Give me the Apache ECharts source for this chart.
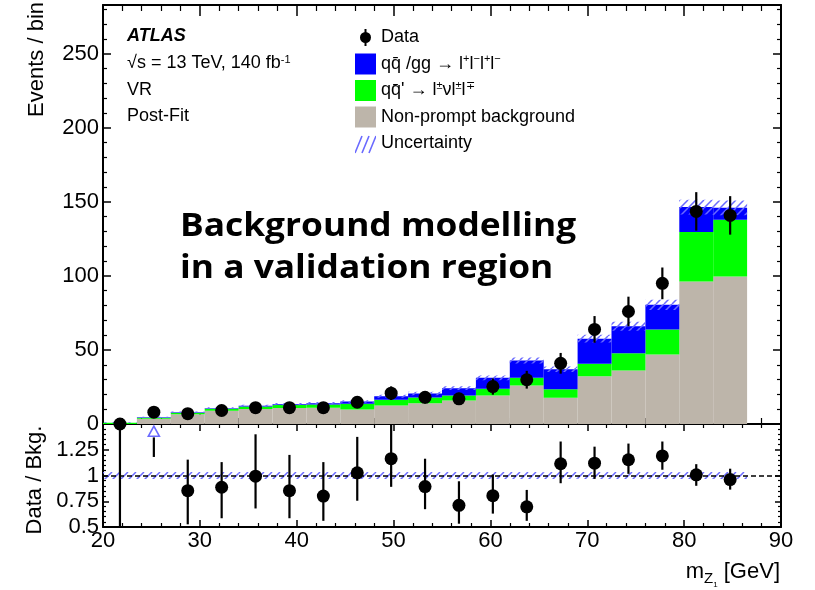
<!DOCTYPE html>
<html>
<head>
<meta charset="utf-8">
<script src="https://cdn.jsdelivr.net/npm/echarts@6/dist/echarts.min.js"></script>
<style>
html, body { margin: 0; padding: 0; background: #fff; }
#chart { width: 815px; height: 590px; }
</style>
</head>
<body>
<div id="chart"></div>
<script>
// bin edges in m_Z1 [GeV]
const binEdges = [20, 23.5, 27, 30.5, 34, 37.5, 41, 44.5, 48, 51.5, 55, 58.5, 62, 65.5, 69, 72.5, 76, 79.5, 83, 86.5];
const binCenters = [21.75, 25.25, 28.75, 32.25, 35.75, 39.25, 42.75, 46.25, 49.75, 53.25, 56.75, 60.25, 63.75, 67.25, 70.75, 74.25, 77.75, 81.25, 84.75];

// stacked backgrounds, events / bin
const nonPrompt = [0, 3.5, 6.6, 9.0, 10.2, 10.8, 11.0, 9.8, 12.5, 14.0, 15.9, 19.3, 26.0, 17.7, 32.3, 36.1, 47.0, 96.3, 99.7];
const wzBkg = [0.8, 0.8, 1.0, 1.3, 1.6, 2.0, 2.2, 3.8, 3.8, 3.9, 3.4, 4.5, 5.2, 5.8, 8.4, 11.7, 16.9, 33.3, 38.3];
const zzBkg = [0.1, 0.3, 0.4, 0.4, 0.5, 0.6, 0.8, 1.6, 2.5, 2.7, 4.9, 7.4, 11.7, 13.5, 16.9, 18.2, 16.6, 16.9, 8.0];
const stackUnc = [0.2, 0.3, 0.5, 0.6, 0.7, 0.7, 0.8, 0.9, 1.0, 1.1, 1.3, 1.6, 2.0, 1.9, 2.6, 3.0, 3.5, 5.0, 5.0];

// data
const dataEvents = [0, 8, 7, 9.1, 11, 11, 11, 14.7, 20.8, 18, 17, 25.3, 29.9, 41, 63.9, 76, 95, 143.6, 140.9];
const dataErr = [0, 2.8, 2.6, 3.0, 3.3, 3.3, 3.3, 3.9, 4.6, 4.2, 4.1, 5.5, 6.0, 7.0, 9.0, 10.0, 10.7, 13.0, 13.0];

// ratio panel
const ratioVals = [null, null, 0.853, 0.886, 0.993, 0.853, 0.80, 1.026, 1.163, 0.892, 0.71, 0.804, 0.696, 1.114, 1.12, 1.153, 1.19, 1.007, 0.96];
const ratioLo = [0.5, 1.18, 0.526, 0.585, 0.68, 0.585, 0.56, 0.755, 0.89, 0.673, 0.532, 0.63, 0.56, 0.925, 0.967, 1.016, 1.056, 0.90, 0.863];
const ratioHi = [1.5, 1.37, 1.154, 1.13, 1.40, 1.20, 1.13, 1.375, 1.5, 1.163, 0.944, 1.01, 0.86, 1.33, 1.28, 1.31, 1.33, 1.11, 1.066];
const ratioUnc = [0.035, 0.035, 0.035, 0.035, 0.035, 0.035, 0.035, 0.035, 0.035, 0.035, 0.035, 0.035, 0.035, 0.035, 0.035, 0.035, 0.035, 0.035, 0.035];
const offScale = [[25.25, 1.43]];

const FONT = '"Liberation Sans", Arial, sans-serif';
const C_ZZ = '#0000ff', C_WZ = '#00ff00', C_NP = '#bdb5aa', C_UNC = '#6a6aff';

function hatchCanvas(size, step) {
    var c = document.createElement('canvas');
    c.width = size; c.height = size;
    var g = c.getContext('2d');
    g.strokeStyle = C_UNC;
    g.lineWidth = 1.5;
    g.beginPath();
    for (var k = -size; k <= size * 2; k += step) {
        g.moveTo(k, size);
        g.lineTo(k + size, 0);
    }
    g.stroke();
    return c;
}

function dataIcon() {
    var c = document.createElement('canvas');
    c.width = 21; c.height = 21;
    var g = c.getContext('2d');
    g.strokeStyle = '#000';
    g.lineWidth = 2;
    g.beginPath(); g.moveTo(10.5, 2); g.lineTo(10.5, 19); g.stroke();
    g.fillStyle = '#000';
    g.beginPath(); g.arc(10.5, 10.5, 5.5, 0, Math.PI * 2); g.fill();
    return c.toDataURL();
}

function uncIcon() {
    var c = document.createElement('canvas');
    c.width = 21; c.height = 21;
    var g = c.getContext('2d');
    g.strokeStyle = C_UNC;
    g.lineWidth = 1.6;
    g.beginPath();
    [0, 7, 14].forEach(function (k) { g.moveTo(k, 20); g.lineTo(k + 7, 3); });
    g.stroke();
    return c.toDataURL();
}

const hatchPattern = { type: 'pattern', image: hatchCanvas(8, 8), repeat: 'repeat' };

// build stacked rect table [lo, hi, bottom, top]
function stackRows(lowers, values) {
    return values.map(function (v, i) {
        var b = 0;
        lowers.forEach(function (arr) { b += arr[i]; });
        return [binEdges[i], binEdges[i + 1], b, b + v];
    });
}

function rectItem(params, api) {
    var p1 = api.coord([api.value(0), api.value(3)]);
    var p2 = api.coord([api.value(1), api.value(2)]);
    return {
        type: 'rect',
        shape: { x: p1[0], y: p1[1], width: p2[0] - p1[0], height: p2[1] - p1[1] },
        style: { fill: api.visual('color') }
    };
}

function hatchItem(params, api) {
    var p1 = api.coord([api.value(0), api.value(3)]);
    var p2 = api.coord([api.value(1), api.value(2)]);
    return {
        type: 'rect',
        shape: { x: p1[0], y: p1[1], width: p2[0] - p1[0], height: p2[1] - p1[1] },
        style: { fill: hatchPattern }
    };
}

function errItem(params, api) {
    var a = api.coord([api.value(0), api.value(1)]);
    var b = api.coord([api.value(0), api.value(2)]);
    return {
        type: 'line',
        shape: { x1: a[0], y1: a[1], x2: b[0], y2: b[1] },
        style: { stroke: '#000', lineWidth: 2.2 }
    };
}

const npRows = stackRows([], nonPrompt);
const wzRows = stackRows([nonPrompt], wzBkg);
const zzRows = stackRows([nonPrompt, wzBkg], zzBkg);
const uncRows = zzRows.map(function (r, i) { return [r[0], r[1], r[3] - stackUnc[i], r[3] + stackUnc[i]]; });
const ratioUncRows = ratioUnc.map(function (u, i) { return [binEdges[i], binEdges[i + 1], 1 - u, 1 + u]; });
const dataPts = binCenters.map(function (x, i) { return [x, dataEvents[i]]; });
const dataErrRows = binCenters.map(function (x, i) { return [x, dataEvents[i] - dataErr[i], dataEvents[i] + dataErr[i]]; })
    .filter(function (r, i) { return dataErr[i] > 0; });
const ratioPts = binCenters.map(function (x, i) { return [x, ratioVals[i]]; })
    .filter(function (r) { return r[1] !== null; });
const ratioErrRows = binCenters.map(function (x, i) { return [x, ratioLo[i], ratioHi[i]]; });

function xAx(grid, pos, labels, tick, minor) {
    return {
        type: 'value', gridIndex: grid, position: pos, min: 20, max: 90, interval: 10,
        axisLine: { show: true, onZero: false, lineStyle: { color: '#000', width: 2 } },
        axisTick: { show: true, inside: true, length: tick, lineStyle: { color: '#000', width: 1.5 } },
        minorTick: { show: true, splitNumber: 5, length: minor, lineStyle: { color: '#000', width: 1.2 } },
        splitLine: { show: false },
        axisLabel: { show: labels, color: '#000', fontSize: 22, fontFamily: FONT, margin: 3, showMinLabel: true, showMaxLabel: true }
    };
}

function yAx(grid, pos, min, max, interval, labels, tick, minor, fmt) {
    return {
        type: 'value', gridIndex: grid, position: pos, min: min, max: max, interval: interval,
        axisLine: { show: true, onZero: false, lineStyle: { color: '#000', width: 2 } },
        axisTick: { show: true, inside: true, length: tick, lineStyle: { color: '#000', width: 1.5 } },
        minorTick: { show: true, splitNumber: 5, length: minor, lineStyle: { color: '#000', width: 1.2 } },
        splitLine: { show: false },
        axisLabel: { show: labels, color: '#000', fontSize: 22, fontFamily: FONT, margin: 4, formatter: fmt }
    };
}

const legendText = {
    'Data': 'Data',
    'ZZ': 'qq\u0304 /gg \u2192 l{sup|+}l{sup|\u2212}l{sup|+}l{sup|\u2212}',
    'WZ': 'qq\u0304\' \u2192 l{sup|\u00b1}\u03bdl{sup|\u00b1}l{sup|\u2213}',
    'Non-prompt background': 'Non-prompt background',
    'Uncertainty': 'Uncertainty'
};

var option = {
    animation: false,
    backgroundColor: '#fff',
    grid: [
        { left: 103, right: 34, top: 5, height: 419 },
        { left: 103, right: 34, top: 424, height: 103 }
    ],
    xAxis: [
        xAx(0, 'bottom', false, 11, 6),
        xAx(0, 'top', false, 11, 6),
        xAx(1, 'bottom', true, 7, 4),
        xAx(1, 'top', false, 7, 4)
    ],
    yAxis: [
        yAx(0, 'left', 0, 283, 50, true, 8, 4, function (v) { return v > 250 ? '' : v; }),
        yAx(1, 'left', 0.5, 1.5, 0.25, true, 6, 3, function (v) { return v > 1.3 ? '' : v; }),
        yAx(0, 'right', 0, 283, 50, false, 8, 4),
        yAx(1, 'right', 0.5, 1.5, 0.25, false, 6, 3)
    ],
    legend: {
        orient: 'vertical', left: 355, top: 27, padding: 0, itemWidth: 21, itemHeight: 21, itemGap: 5.5,
        selectedMode: false,
        textStyle: {
            color: '#000', fontSize: 18, fontFamily: FONT, lineHeight: 21,
            rich: { sup: { fontSize: 11, fontFamily: FONT, verticalAlign: 'top', lineHeight: 10 } }
        },
        formatter: function (name) { return legendText[name] || name; },
        data: [
            { name: 'Data', icon: 'image://' + dataIcon() },
            { name: 'ZZ', icon: 'rect' },
            { name: 'WZ', icon: 'rect' },
            { name: 'Non-prompt background', icon: 'rect' },
            { name: 'Uncertainty', icon: 'image://' + uncIcon() }
        ]
    },
    graphic: [
        { type: 'text', x: 127, y: 36, style: { text: 'ATLAS', font: 'italic bold 18px ' + FONT, fill: '#000', verticalAlign: 'middle' } },
        { type: 'text', x: 127, y: 63, style: { text: '\u221as = 13 TeV, 140 fb{sup|-1}', font: '18px ' + FONT, fill: '#000', verticalAlign: 'middle',
            rich: { sup: { fontSize: 11, fontFamily: FONT, verticalAlign: 'top' } } } },
        { type: 'text', x: 127, y: 90, style: { text: 'VR', font: '18px ' + FONT, fill: '#000', verticalAlign: 'middle' } },
        { type: 'text', x: 127, y: 116, style: { text: 'Post-Fit', font: '18px ' + FONT, fill: '#000', verticalAlign: 'middle' } },
        { type: 'text', x: 180, y: 227, scaleX: 1.07, z: 100, style: { text: 'Background modelling', font: 'bold 33px "Open Sans", sans-serif', fill: '#000', verticalAlign: 'middle' } },
        { type: 'text', x: 180, y: 269, scaleX: 1.07, z: 100, style: { text: 'in a validation region', font: 'bold 33px "Open Sans", sans-serif', fill: '#000', verticalAlign: 'middle' } },
        { type: 'text', x: 37, y: 2, rotation: Math.PI / 2, style: { text: 'Events / bin', font: '22px ' + FONT, fill: '#000', align: 'right', verticalAlign: 'middle' } },
        { type: 'text', x: 35, y: 480, rotation: Math.PI / 2, style: { text: 'Data / Bkg.', font: '22px ' + FONT, fill: '#000', align: 'center', verticalAlign: 'middle' } },
        { type: 'text', x: 780, y: 572, style: { text: 'm{sub|Z}{subsub|1} [GeV]', font: '22px ' + FONT, fill: '#000', align: 'right', verticalAlign: 'middle',
            rich: { sub: { fontSize: 15, fontFamily: FONT, padding: [14, 0, 0, 0] }, subsub: { fontSize: 8, fontFamily: FONT, padding: [26, 0, 0, 0] } } } }
    ],
    series: [
        { name: 'Non-prompt background', type: 'custom', xAxisIndex: 0, yAxisIndex: 0, renderItem: rectItem,
          itemStyle: { color: C_NP }, encode: { x: [0, 1], y: [2, 3] }, data: npRows, z: 2 },
        { name: 'WZ', type: 'custom', xAxisIndex: 0, yAxisIndex: 0, renderItem: rectItem,
          itemStyle: { color: C_WZ }, encode: { x: [0, 1], y: [2, 3] }, data: wzRows, z: 2 },
        { name: 'ZZ', type: 'custom', xAxisIndex: 0, yAxisIndex: 0, renderItem: rectItem,
          itemStyle: { color: C_ZZ }, encode: { x: [0, 1], y: [2, 3] }, data: zzRows, z: 2 },
        { name: 'Uncertainty', type: 'custom', xAxisIndex: 0, yAxisIndex: 0, renderItem: hatchItem,
          itemStyle: { color: C_UNC }, encode: { x: [0, 1], y: [2, 3] }, data: uncRows, z: 3 },
        { name: 'Uncertainty', type: 'custom', xAxisIndex: 2, yAxisIndex: 1, renderItem: hatchItem,
          itemStyle: { color: C_UNC }, encode: { x: [0, 1], y: [2, 3] }, data: ratioUncRows, z: 3 },
        { name: 'dataErr', type: 'custom', xAxisIndex: 0, yAxisIndex: 0, renderItem: errItem,
          encode: { x: 0, y: [1, 2] }, data: dataErrRows, z: 5 },
        { name: 'Data', type: 'scatter', xAxisIndex: 0, yAxisIndex: 0, symbolSize: 13, clip: false,
          itemStyle: { color: '#000', opacity: 1 }, data: dataPts, z: 6 },
        { name: 'ratioErr', type: 'custom', xAxisIndex: 2, yAxisIndex: 1, renderItem: errItem,
          encode: { x: 0, y: [1, 2] }, data: ratioErrRows, z: 5 },
        { name: 'ratio', type: 'scatter', xAxisIndex: 2, yAxisIndex: 1, symbolSize: 13, clip: false,
          itemStyle: { color: '#000', opacity: 1 }, data: ratioPts, z: 6,
          markLine: {
              silent: true, symbol: ['none', 'none'], label: { show: false },
              lineStyle: { color: '#000', type: [5, 3], width: 1.5 },
              data: [{ yAxis: 1 }]
          }
        },
        { name: 'offScale', type: 'scatter', xAxisIndex: 2, yAxisIndex: 1, symbol: 'triangle', symbolSize: [11, 10],
          itemStyle: { color: '#fff', borderColor: '#6b6bff', borderWidth: 1.6, opacity: 1 }, data: offScale, z: 6 }
    ]
};

var chart = echarts.init(document.getElementById('chart'), null, { renderer: 'canvas' });
chart.setOption(option);
</script>
</body>
</html>
